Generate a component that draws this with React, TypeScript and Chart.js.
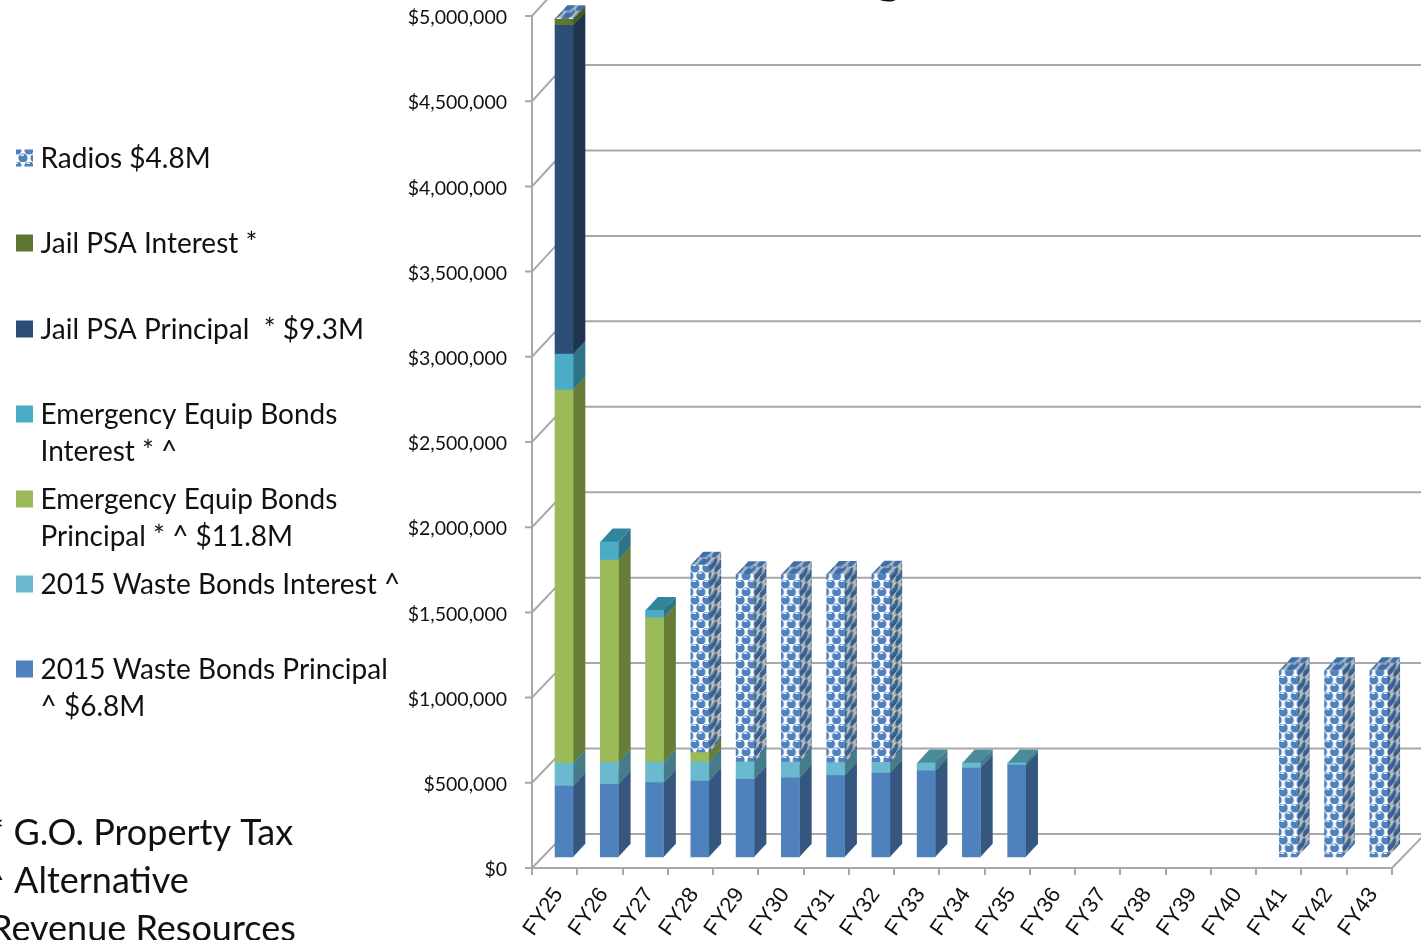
import React, { useEffect, useRef } from "react";
import { Chart, registerables } from "chart.js";

Chart.register(...registerables);

const fiscalYears = ["FY25","FY26","FY27","FY28","FY29","FY30","FY31","FY32","FY33","FY34","FY35","FY36","FY37","FY38","FY39","FY40","FY41","FY42","FY43"];

const wastePrincipal = [422000,432000,442000,452000,462000,471000,484000,499000,511000,528000,546000,0,0,0,0,0,0,0,0];
const wasteInterest = [134000,129000,120000,112000,102000,92000,76000,62000,47000,30000,12000,0,0,0,0,0,0,0,0];
const emergencyPrincipal = [2190000,1188000,847000,55000,0,0,0,0,0,0,0,0,0,0,0,0,0,0,0];
const emergencyInterest = [211000,106000,45000,0,0,0,0,0,0,0,0,0,0,0,0,0,0,0,0];
const jailPrincipal = [1930000,0,0,0,0,0,0,0,0,0,0,0,0,0,0,0,0,0,0];
const jailInterest = [35000,0,0,0,0,0,0,0,0,0,0,0,0,0,0,0,0,0,0];
const radios = [5000,0,0,1100000,1100000,1100000,1105000,1105000,0,0,0,0,0,0,0,0,1100000,1100000,1100000];

const legendLabels = {
  radios: ["Radios $4.8M"],
  jailInterest: ["Jail PSA Interest *"],
  jailPrincipal: ["Jail PSA Principal  * $9.3M"],
  emergencyInterest: ["Emergency Equip Bonds", "Interest * ^"],
  emergencyPrincipal: ["Emergency Equip Bonds", "Principal * ^ $11.8M"],
  wasteInterest: ["2015 Waste Bonds Interest ^"],
  wastePrincipal: ["2015 Waste Bonds Principal", "^ $6.8M"],
};

const fundingNotes = ["* G.O. Property Tax", "^ Alternative", "Revenue Resources"];
const headingTail = "g";

// Depth of the floor and of each column, in pixels
const WALL_DX = 33;
const WALL_DY = 34;
const WALL_PERSPECTIVE = 0.0028;
const BAR_DX = 12.3;
const BAR_DY = 13.3;
const BAR_SHIFT_X = 9.4;
const BAR_SHIFT_Y = -10;
const BAR_WIDTH = 18;
const TICK_MARK = 7;
const GRID = "#a8a8a8";

// One repeat of the sphere fill used for the Radios series
function ballTile(bg: string, fg: string, glint: string) {
  const c = document.createElement("canvas");
  c.width = 12;
  c.height = 16;
  const g = c.getContext("2d") as CanvasRenderingContext2D;
  g.fillStyle = bg;
  g.fillRect(0, 0, 12, 16);
  const ball = (x: number, y: number) => {
    [x, x - 12, x + 12].forEach((bx) => {
      g.fillStyle = fg;
      g.beginPath();
      g.arc(bx, y, 4.6, 0, Math.PI * 2);
      g.fill();
      g.fillStyle = glint;
      g.fillRect(bx - 2.5, y - 3.6, 3.5, 1.6);
    });
  };
  ball(4, 4);
  ball(10, 12);
  return c;
}

function faces(ctx: CanvasRenderingContext2D, el: any, side: any, top: any) {
  const x0 = el.x - el.width / 2 + BAR_SHIFT_X;
  const x1 = x0 + el.width;
  const yT = el.y + BAR_SHIFT_Y;
  const yB = el.base + BAR_SHIFT_Y;
  ctx.fillStyle = typeof side === "function" ? side(x1, yB) : side;
  ctx.beginPath();
  ctx.moveTo(x1, yT);
  ctx.lineTo(x1 + BAR_DX, yT - BAR_DY);
  ctx.lineTo(x1 + BAR_DX, yB - BAR_DY);
  ctx.lineTo(x1, yB);
  ctx.closePath();
  ctx.fill();
  ctx.fillStyle = typeof top === "function" ? top(x0, yT) : top;
  ctx.beginPath();
  ctx.moveTo(x0, yT);
  ctx.lineTo(x1, yT);
  ctx.lineTo(x1 + BAR_DX, yT - BAR_DY);
  ctx.lineTo(x0 + BAR_DX, yT - BAR_DY);
  ctx.closePath();
  ctx.fill();
}

// Back wall, floor, and the side and top faces of every column
const depthPlugin = {
  id: "depth",
  beforeDatasetsDraw(chart: any) {
    const { ctx, scales, chartArea } = chart;
    const y = scales.y;
    ctx.save();
    ctx.strokeStyle = GRID;
    ctx.lineWidth = 2;
    y.ticks.forEach((t: any) => {
      const py = y.getPixelForValue(t.value);
      const back = py - WALL_DY - (chartArea.bottom - py) * WALL_PERSPECTIVE;
      ctx.beginPath();
      ctx.moveTo(chartArea.left - TICK_MARK, py);
      ctx.lineTo(chartArea.left, py);
      ctx.lineTo(chartArea.left + WALL_DX, back);
      ctx.lineTo(1421, back);
      ctx.stroke();
    });
    ctx.beginPath();
    ctx.moveTo(chartArea.right, chartArea.bottom);
    ctx.lineTo(chartArea.right + WALL_DX, chartArea.bottom - WALL_DY);
    ctx.stroke();
    chart.data.datasets.forEach((ds: any, i: number) => {
      const meta = chart.getDatasetMeta(i);
      meta.data.forEach((el: any, j: number) => {
        if (!ds.data[j]) return;
        const p = el.getProps(["x", "y", "base", "width"], true);
        faces(ctx, p, ds.sideColor, ds.topColor);
      });
    });
    ctx.restore();
  },
  beforeDatasetDraw(chart: any) {
    chart.ctx.save();
    chart.ctx.translate(BAR_SHIFT_X, BAR_SHIFT_Y);
  },
  afterDatasetDraw(chart: any) {
    chart.ctx.restore();
  },
};

// Series key with swatch and wrapped captions, plus the funding notes below it
const keyPlugin = {
  id: "key",
  afterDraw(chart: any) {
    const { ctx } = chart;
    ctx.save();
    ctx.textBaseline = "middle";
    ctx.textAlign = "left";
    const rows = [158, 243, 329, 414, 499, 584, 669];
    const order = [6, 5, 4, 3, 2, 1, 0];
    order.forEach((dsIndex, r) => {
      const ds = chart.data.datasets[dsIndex];
      const cy = rows[r];
      ctx.fillStyle = ds.keyFill;
      ctx.fillRect(16, cy - 8.5, 17, 17);
      ctx.fillStyle = "#111111";
      ctx.font = "28px Lato";
      ds.caption.forEach((line: string, n: number) => {
        ctx.fillText(line, 40.5, cy + 1 + n * 37);
      });
    });
    ctx.font = "36px Lato";
    ctx.fillText(fundingNotes[0], -11, 833);
    ctx.fillText(fundingNotes[1], -16, 881);
    ctx.fillText(fundingNotes[2], -10, 929);
    ctx.textBaseline = "alphabetic";
    ctx.font = "60px Lato";
    ctx.fillText(headingTail, 873, -9);
    ctx.restore();
  },
};

export default function App() {
  const ref = useRef<HTMLCanvasElement>(null);

  useEffect(() => {
    const canvas = ref.current as HTMLCanvasElement;
    const ctx = canvas.getContext("2d") as CanvasRenderingContext2D;
    const frontTile = ballTile("#ffffff", "#4f81bd", "#e4ecf6");
    const sideTile = ballTile("#bcbcbc", "#38618f", "#8fa3bb");
    const topTile = ballTile("#aeb9c6", "#3f6fa8", "#9db3cc");

    const anchored = (source: HTMLCanvasElement, m: number[]) => {
      const p = ctx.createPattern(source, "repeat") as CanvasPattern;
      p.setTransform(new DOMMatrix(m));
      return p;
    };

    // The fill starts afresh on every column, so all columns show the same phase
    const radiosFront = (c: any) => {
      const x = c.chart.scales.x.getPixelForValue(c.dataIndex) - BAR_WIDTH / 2;
      const y = c.chart.scales.y.getPixelForValue(0) - 22;
      return anchored(frontTile, [1, 0, 0, 1, x, y]);
    };
    const radiosSide = (x: number, yB: number) =>
      anchored(sideTile, [1, -BAR_DY / BAR_DX, 0, 1, x, yB - 12]);
    const radiosTop = (x: number, y: number) =>
      anchored(topTile, [1, 0, -BAR_DX / BAR_DY, 1, x, y]);

    const series = (
      data: number[],
      caption: string[],
      backgroundColor: any,
      sideColor: any,
      topColor: any,
      keyFill: any,
    ) => ({
      label: caption.join(" "),
      data: data.map((v) => v || null),
      caption,
      backgroundColor,
      sideColor,
      topColor,
      keyFill,
      borderWidth: 0,
      barThickness: BAR_WIDTH,
      stack: "debt",
      clip: false,
    });

    const chart = new Chart(canvas, {
      type: "bar",
      data: {
        labels: fiscalYears,
        datasets: [
          series(wastePrincipal, legendLabels.wastePrincipal, "#4f81bd", "#34567f", "#3f6797", "#4f81bd"),
          series(wasteInterest, legendLabels.wasteInterest, "#6bb9cf", "#467b88", "#4b8c9c", "#6bb9cf"),
          series(emergencyPrincipal, legendLabels.emergencyPrincipal, "#9bbb59", "#667c37", "#7c9647", "#9bbb59"),
          series(emergencyInterest, legendLabels.emergencyInterest, "#4bacc6", "#2f7387", "#33859c", "#4bacc6"),
          series(jailPrincipal, legendLabels.jailPrincipal, "#2c4d75", "#1e3550", "#243f60", "#2c4d75"),
          series(jailInterest, legendLabels.jailInterest, "#5f7530", "#46591f", "#4f6228", "#5f7530"),
          series(radios, legendLabels.radios, radiosFront, radiosSide, radiosTop, anchored(frontTile, [1, 0, 0, 1, 13, 146])),
        ] as any,
      },
      options: {
        animation: false,
        responsive: false,
        devicePixelRatio: 1,
        layout: { autoPadding: false, padding: { left: 400, right: 29, top: 16, bottom: 0 } },
        plugins: { legend: { display: false }, tooltip: { enabled: false } },
        scales: {
          x: {
            stacked: true,
            afterFit: (s: any) => {
              s.height = 72;
            },
            grid: {
              offset: true,
              drawOnChartArea: false,
              color: GRID,
              lineWidth: 2,
              tickLength: TICK_MARK,
            },
            border: { color: GRID, width: 2 },
            ticks: {
              autoSkip: false,
              minRotation: 55,
              maxRotation: 55,
              padding: 8,
              labelOffset: 4,
              color: "#111111",
              font: { family: "Liberation Sans", size: 22 },
            },
          },
          y: {
            stacked: true,
            min: 0,
            max: 5000000,
            afterFit: (s: any) => {
              s.width = 132;
              // Lato sits high in its line box, so the labels are nudged down onto their ticks
              if (!s.labelsNudged) {
                const drawLabels = s.drawLabels;
                s.drawLabels = function (area: any) {
                  this.ctx.save();
                  this.ctx.translate(0, 2);
                  drawLabels.call(this, area);
                  this.ctx.restore();
                };
                s.labelsNudged = true;
              }
            },
            // The label gap is carried by a long transparent tick; the short visible marks come from the depth plugin
            grid: { drawOnChartArea: false, tickColor: "transparent", color: GRID, lineWidth: 2, tickLength: 25 },
            border: { color: GRID, width: 2 },
            ticks: {
              stepSize: 500000,
              padding: 0,
              color: "#111111",
              font: { family: "Lato", size: 19.5 },
              callback: (v: any) => "$" + Number(v).toLocaleString("en-US"),
            },
          },
        },
      },
      plugins: [depthPlugin, keyPlugin],
    } as any);

    return () => chart.destroy();
  }, []);

  return (
    <canvas
      ref={ref}
      width={1421}
      height={940}
      style={{ position: "absolute", left: 0, top: 0, display: "block" }}
    />
  );
}
